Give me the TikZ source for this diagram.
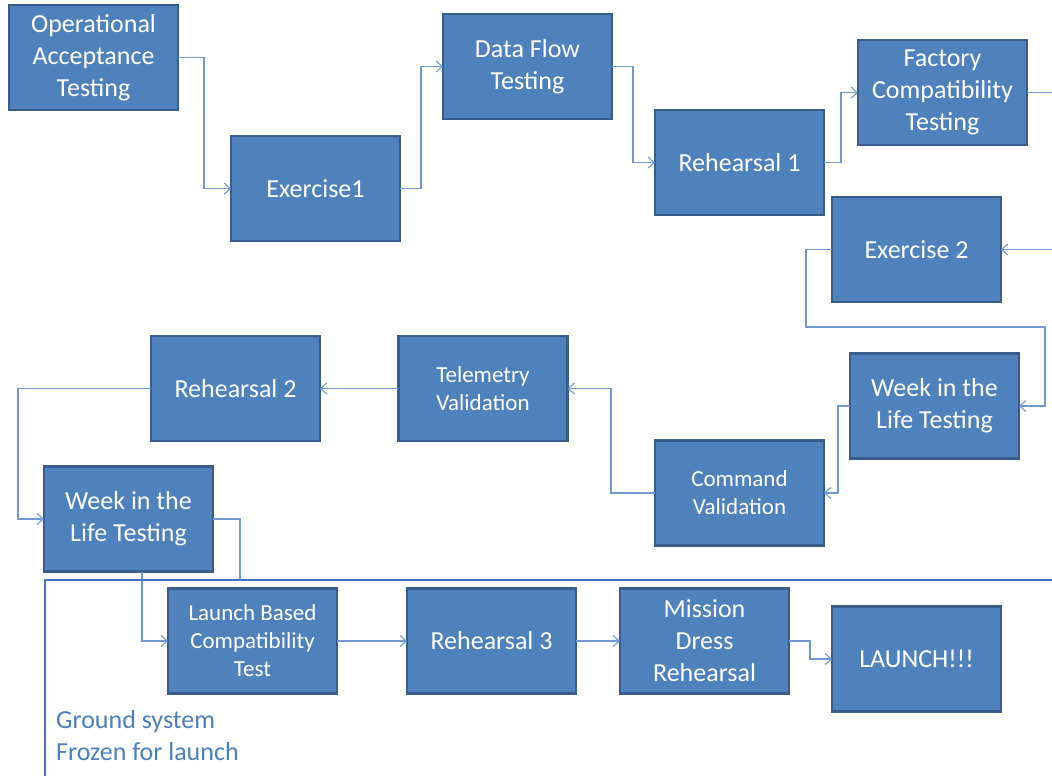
\documentclass[tikz,border=0pt]{standalone}
\usepackage{fontspec}
\setmainfont{Carlito}
\usetikzlibrary{arrows.meta,calc}
\definecolor{boxfill}{RGB}{79,129,189}
\definecolor{boxdraw}{RGB}{56,93,138}
\definecolor{conn}{RGB}{112,152,210}
\definecolor{frozenc}{RGB}{68,114,196}
\definecolor{labelc}{RGB}{74,126,190}
\tikzset{
  stagebox/.style={draw=boxdraw, fill=boxfill, line width=2.2pt, text=white,
    minimum width=169pt, minimum height=105pt, inner sep=2pt, outer sep=0pt,
    align=center, font=\fontsize{26}{32}\selectfont},
  smalltxt/.style={font=\fontsize{23}{28}\selectfont},
  conn/.style={draw=conn, line width=1.1pt, -{Straight Barb[length=6pt,width=11pt]}},
  plainconn/.style={draw=conn, line width=1.1pt},
  frozen/.style={draw=frozenc, line width=1.1pt},
}
\begin{document}
\begin{tikzpicture}[x=1pt,y=-1pt]
\useasboundingbox (0,0) rectangle (1052,776);
% boxes
\node[stagebox] (oat) at (93.5,57.5) {Operational\\Acceptance\\Testing};
\node[stagebox] (ex1) at (315.5,188.5) {Exercise1};
\node[stagebox] (dft) at (527.5,66.5) {Data Flow\\Testing};
\node[stagebox] (reh1) at (739.5,162.5) {Rehearsal 1};
\node[stagebox] (fct) at (942.5,92.5) {Factory\\Compatibility\\Testing};
\node[stagebox] (ex2) at (916.5,249.5) {Exercise 2};
\node[stagebox] (wil1) at (934.5,406) {Week in the\\Life Testing};
\node[stagebox,smalltxt] (cmd) at (739.5,493) {Command\\Validation};
\node[stagebox,smalltxt] (tel) at (483,388.5) {Telemetry\\Validation};
\node[stagebox] (reh2) at (235.5,388.5) {Rehearsal 2};
\node[stagebox] (wil2) at (128.5,519) {Week in the\\Life Testing};
\node[stagebox,smalltxt] (lbc) at (252.5,641) {Launch Based\\Compatibility\\Test};
\node[stagebox] (reh3) at (491.5,641) {Rehearsal 3};
\node[stagebox] (mdr) at (704.5,641) {Mission\\Dress\\Rehearsal};
\node[stagebox] (launch) at (916.5,659) {LAUNCH!!!};
% free ends and bends
\coordinate (r1) at (1052,92.5);
\coordinate (r2) at (1052,249.5);
\coordinate (k1) at (806,327);
\coordinate (k2) at (1045,327);
\coordinate (w2stop) at (240,580);
\coordinate (fzbot) at (45,776);
\coordinate (fzcorner) at (45,580);
\coordinate (fzright) at (1052,580);
% connectors
\draw[conn] (oat.east) -- ++(26,0) |- (ex1.west);
\draw[conn] (ex1.east) -- ++(21,0) |- (dft.west);
\draw[conn] (dft.east) -- ++(21,0) |- (reh1.west);
\draw[conn] (reh1.east) -- ++(17,0) |- (fct.west);
\draw[plainconn] (fct.east) -- (r1);
\draw[conn] (r2) -- (ex2.east);
\draw[conn] (ex2.west) -| (k1) -- (k2) |- (wil1.east);
\draw[conn] (wil1.west) -- ++(-12,0) |- (cmd.east);
\draw[conn] (cmd.west) -- ++(-44,0) |- (tel.east);
\draw[conn] (tel.west) -- (reh2.east);
\draw[conn] (reh2.west) -- ++(-133,0) |- (wil2.west);
\draw[plainconn] (wil2.east) -| (w2stop);
\draw[conn] ($(wil2.south)+(13.5,0)$) |- (lbc.west);
\draw[conn] (lbc.east) -- (reh3.west);
\draw[conn] (reh3.east) -- (mdr.west);
\draw[conn] (mdr.east) -- ++(21,0) |- (launch.west);
% frozen boundary
\draw[frozen] (fzbot) -- (fzcorner) -- (fzright);
\node[anchor=base west, align=left, text=labelc, inner sep=0pt,
  font=\fontsize{26}{32}\selectfont] (frozenlbl) at (56,760) {Ground system\\Frozen for launch};
\end{tikzpicture}
\end{document}
